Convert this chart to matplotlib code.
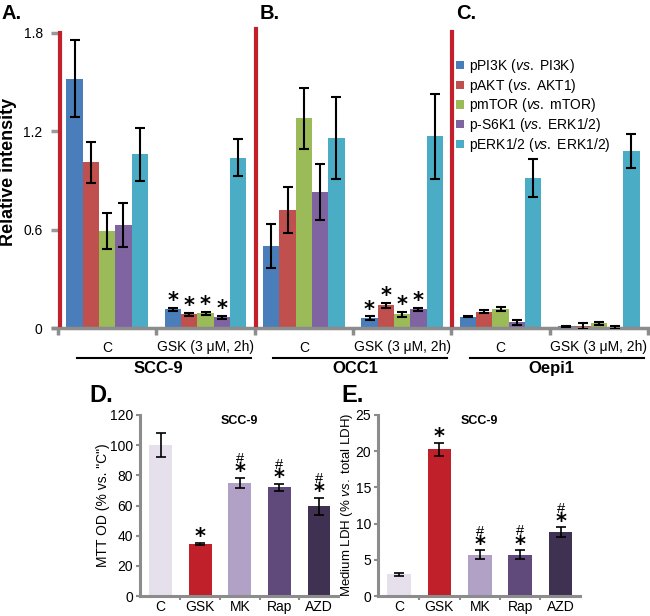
import matplotlib
matplotlib.use('Agg')
import matplotlib.pyplot as plt
import matplotlib.transforms as mtransforms

plt.rcParams['font.family'] = ['Liberation Sans', 'DejaVu Sans']
plt.rcParams['mathtext.fontset'] = 'custom'
plt.rcParams['mathtext.rm'] = 'Liberation Sans'
plt.rcParams['mathtext.it'] = 'Liberation Sans:italic'

# ---- data: top panel (A-C) ----
cell_lines = ['SCC-9', 'OCC1', 'Oepi1']
treatments = ['C', 'GSK (3 μM, 2h)']
series = ['pPI3K ($\\it{vs.}$ PI3K)', 'pAKT ($\\it{vs.}$ AKT1)', 'pmTOR ($\\it{vs.}$ mTOR)',
          'p-S6K1 ($\\it{vs.}$ ERK1/2)', 'pERK1/2 ($\\it{vs.}$ ERK1/2)']
series_colors = ['#4a7ebb', '#c0504d', '#9bbb59', '#8064a2', '#4bacc6']

# order: SCC-9 C, SCC-9 GSK, OCC1 C, OCC1 GSK, Oepi1 C, Oepi1 GSK
pPI3K = [1.52, 0.114, 0.50, 0.06, 0.07, 0.01]
pPI3K_err = [0.235, 0.01, 0.135, 0.012, 0.005, 0.003]
pAKT = [1.01, 0.083, 0.72, 0.14, 0.10, 0.012]
pAKT_err = [0.125, 0.01, 0.14, 0.015, 0.01, 0.02]
pmTOR = [0.59, 0.089, 1.28, 0.085, 0.115, 0.028]
pmTOR_err = [0.11, 0.01, 0.185, 0.015, 0.012, 0.01]
pS6K1 = [0.63, 0.065, 0.83, 0.115, 0.035, 0.005]
pS6K1_err = [0.135, 0.01, 0.17, 0.01, 0.015, 0.01]
pERK = [1.06, 1.04, 1.16, 1.17, 0.915, 1.08]
pERK_err = [0.16, 0.115, 0.25, 0.26, 0.115, 0.105]
# series that get a star in each group
star_series = [[], [0, 1, 2, 3], [], [0, 1, 2, 3], [], []]

# ---- data: bottom panels (D, E) ----
drugs = ['C', 'GSK', 'MK', 'Rap', 'AZD']
drug_colors = ['#e6e0ed', '#c0202a', '#b2a1c7', '#604a7b', '#3f3151']
mtt = [100, 34.5, 75, 72, 59.5]
mtt_err = [8, 0.8, 3.5, 2.5, 5.8]
ldh = [3.0, 20.3, 5.7, 5.7, 8.8]
ldh_err = [0.2, 0.9, 0.6, 0.65, 0.7]
sig_marks = ['', '*', '#', '#', '#']

W, H = 650, 616
fig = plt.figure(figsize=(6.5, 6.16), dpi=100)


def px_axes(x0, y0, x1, y1):
    return fig.add_axes([x0 / W, 1 - y1 / H, (x1 - x0) / W, (y1 - y0) / H])


grey = '#8c8c8c'

# ================= top panel =================
ax = px_axes(58, 33, 648, 328)
values = [pPI3K, pAKT, pmTOR, pS6K1, pERK]
errors = [pPI3K_err, pAKT_err, pmTOR_err, pS6K1_err, pERK_err]
bw = 0.166
ncat = len(cell_lines) * len(treatments)
xs = list(range(ncat))
for i, (vals, errs, col, lab) in enumerate(zip(values, errors, series_colors, series)):
    pos = [x + (i - 2) * bw for x in xs]
    ax.bar(pos, vals, width=bw, color=col, label=lab, zorder=2)
    ax.errorbar(pos, vals, yerr=errs, fmt='none', ecolor='black', elinewidth=1.5,
                capsize=3.5, capthick=1.5, zorder=3)
    for g in xs:
        if i in star_series[g]:
            ax.annotate('*', (pos[g], vals[g] + errs[g]), xytext=(0, 0.5),
                        textcoords='offset points', ha='center', va='baseline',
                        fontsize=15, fontweight='bold', fontfamily='DejaVu Sans')

ax.set_xlim(-0.5, ncat - 0.5)
ax.set_ylim(0, 1.8)
ax.set_yticks([0, 0.6, 1.2, 1.8])
ax.set_yticklabels(['0', '0.6', '1.2', '1.8'], fontsize=10)
ax.tick_params(axis='y', length=5, width=2.5, color='#9a9a9a', pad=6)
ax.set_xticks(xs)
ax.set_xticklabels(treatments * len(cell_lines), fontsize=10)
ax.set_xticks([x + 0.5 for x in range(-1, ncat)], minor=True)
ax.tick_params(axis='x', which='major', length=0, pad=9)
ax.tick_params(axis='x', which='minor', length=5, width=2.5, color=grey)
for s in ['top', 'right', 'left']:
    ax.spines[s].set_visible(False)
ax.spines['bottom'].set_color(grey)
ax.spines['bottom'].set_linewidth(2.5)
ax.spines['bottom'].set_bounds(-0.55, ncat - 0.5)

# red separators
for k, top in zip(range(len(cell_lines)), [1.8, 1.825, 1.805]):
    xb = -0.5 + 2 * k + (0.02 if k == 0 else 0.01)
    ax.plot([xb, xb], [0.02, top], color='#c4202c', lw=3, clip_on=False, zorder=4)

# group underlines and cell-line names
tr = mtransforms.blended_transform_factory(ax.transData, ax.transAxes)
for k, name in enumerate(cell_lines):
    left = -0.5 + 2 * k
    ax.plot([left + 0.19, left + 1.96], [-0.102, -0.102], color='black', lw=1.5,
            transform=tr, clip_on=False)
    ax.text(left + 1.02, -0.112, name, transform=tr, ha='center', va='top',
            fontsize=12, fontweight='bold')

leg = ax.legend(loc='upper left', bbox_to_anchor=(456 / W, 1 - 57 / H),
                bbox_transform=fig.transFigure, frameon=False, fontsize=10,
                handlelength=0.55, handleheight=0.55, handletextpad=0.4,
                labelspacing=0.12, borderpad=0, borderaxespad=0)

fig.text(9 / W, 1 - 172 / H, 'Relative intensity', rotation=90, ha='center', va='center',
         fontsize=13, fontweight='bold')
for lab, xp in zip(['A.', 'B.', 'C.'], [2, 260, 456]):
    fig.text(xp / W, 1 - 19 / H, lab, fontsize=14.5, fontweight='bold', va='baseline')


# ================= bottom panels =================
def small_panel(x0, x1, vals, errs, ymax, step, ylabel, ylab_x, ylab_size, letter, letter_x):
    a = px_axes(x0, 415, x1, 596)
    xp = list(range(len(drugs)))
    a.bar(xp, vals, width=0.58, color=drug_colors, zorder=2)
    a.errorbar(xp, vals, yerr=errs, fmt='none', ecolor='black', elinewidth=1.2,
               capsize=3.5, capthick=1.2, zorder=3)
    for x, v, e, m in zip(xp, vals, errs, sig_marks):
        if m == '':
            continue
        a.annotate('*', (x, v + e), xytext=(0, -0.5), textcoords='offset points',
                   ha='center', va='baseline', fontsize=15, fontweight='bold',
                   fontfamily='DejaVu Sans')
        if m == '#':
            a.annotate('#', (x, v + e), xytext=(0, 10.5), textcoords='offset points',
                       ha='center', va='baseline', fontsize=10.5)
    a.set_xlim(-0.52, len(drugs) - 0.52)
    a.set_ylim(0, ymax)
    a.set_yticks(range(0, ymax + 1, step))
    a.tick_params(axis='y', labelsize=10, length=3, width=1.5, color=grey, pad=2)
    a.set_xticks(xp)
    a.set_xticklabels(drugs, fontsize=10)
    a.set_xticks([x + 0.5 for x in xp[:-1]], minor=True)
    a.tick_params(axis='x', which='major', length=0, pad=3)
    a.tick_params(axis='x', which='minor', length=3, width=1.5, color=grey)
    for s in ['top', 'right']:
        a.spines[s].set_visible(False)
    for s in ['left', 'bottom']:
        a.spines[s].set_color(grey)
        a.spines[s].set_linewidth(2.2)
    a.text(0.5, 1.0, 'SCC-9', transform=a.transAxes, ha='center', va='top',
           fontsize=9, fontweight='bold')
    fig.text(ylab_x / W, 1 - 505 / H, ylabel, rotation=90, ha='center', va='center',
             fontsize=ylab_size)
    fig.text(letter_x / W, 1 - 402 / H, letter, fontsize=17, fontweight='bold',
             va='baseline')
    return a


small_panel(140, 338, mtt, mtt_err, 120, 20, 'MTT OD (% vs. "C")', 103, 10, 'D.', 89)
small_panel(378, 580, ldh, ldh_err, 25, 5, 'Medium LDH (% $\\it{vs.}$ total LDH)', 347, 9.5,
            'E.', 341)

fig.savefig('out.png', dpi=100)
